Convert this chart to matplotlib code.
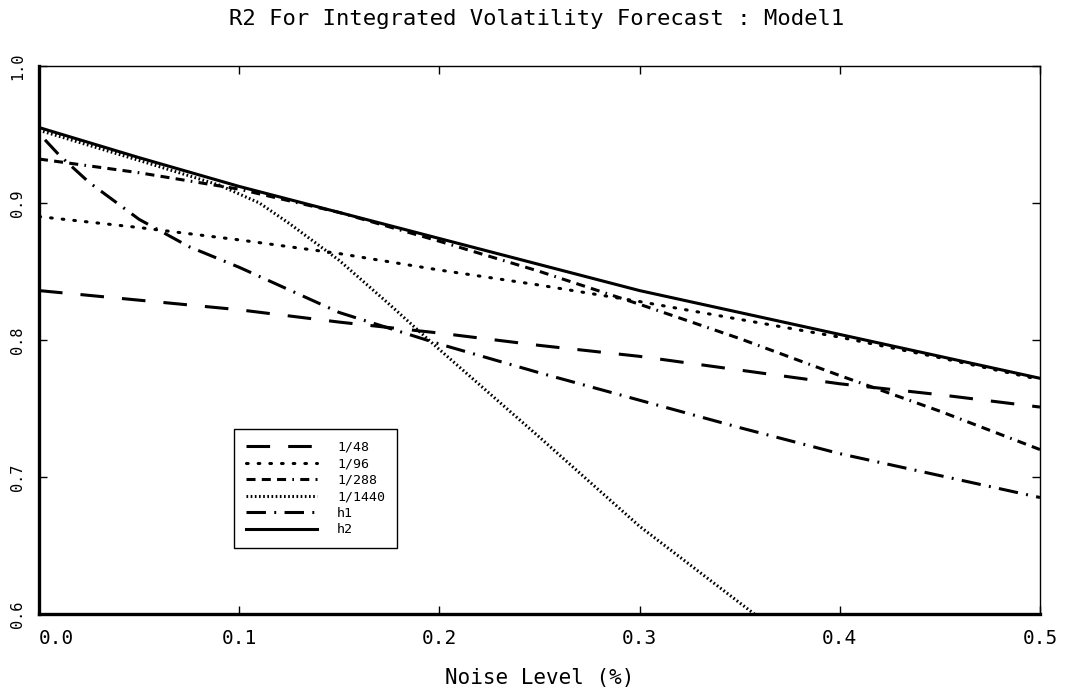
import matplotlib
matplotlib.use("Agg")
import matplotlib.pyplot as plt

# dash patterns given in points, not scaled by line width
plt.rcParams['lines.scale_dashes'] = False
plt.rcParams['font.family'] = ['DejaVu Sans Mono']

# noise level (%) and R2 for each sampling frequency / model
noise = [0.0, 0.05, 0.1, 0.15, 0.2, 0.25, 0.3, 0.35, 0.4, 0.45, 0.5]
r2_48 = [0.836, 0.829, 0.822, 0.813, 0.805, 0.796, 0.788, 0.778, 0.768, 0.760, 0.751]
r2_96 = [0.890, 0.882, 0.873, 0.863, 0.851, 0.840, 0.828, 0.815, 0.802, 0.787, 0.771]
r2_288 = [0.932, 0.922, 0.910, 0.893, 0.872, 0.850, 0.826, 0.801, 0.774, 0.748, 0.720]
r2_h2 = [0.955, 0.933, 0.912, 0.893, 0.874, 0.855, 0.836, 0.820, 0.804, 0.788, 0.772]

noise_1440 = [0.0, 0.05, 0.09, 0.11, 0.125, 0.15, 0.175, 0.2, 0.25, 0.3, 0.36]
r2_1440 = [0.953, 0.931, 0.913, 0.900, 0.885, 0.858, 0.826, 0.793, 0.729, 0.664, 0.597]

noise_h1 = [0.003, 0.01, 0.025, 0.05, 0.075, 0.1, 0.15, 0.2, 0.25, 0.3, 0.35, 0.4, 0.45, 0.5]
r2_h1 = [0.946, 0.935, 0.915, 0.888, 0.868, 0.853, 0.820, 0.797, 0.776, 0.756, 0.736, 0.717, 0.701, 0.685]

labels = ['1/48', '1/96', '1/288', '1/1440', 'h1', 'h2']
xticks = [0.0, 0.1, 0.2, 0.3, 0.4, 0.5]
yticks = [0.6, 0.7, 0.8, 0.9, 1.0]

fig = plt.figure(figsize=(10.74, 6.93), dpi=100)
ax = fig.add_axes([0.0363, 0.114, 0.932, 0.791])

lw = 2.2
ax.plot(noise, r2_48, color='k', lw=lw, linestyle=(0, (17, 13)), label=labels[0])
ax.plot(noise, r2_96, color='k', lw=lw, linestyle=(0, (1.2, 7.2)),
        dash_capstyle='round', label=labels[1])
ax.plot(noise, r2_288, color='k', lw=lw,
        linestyle=(0, (6.5, 4.5, 6.5, 4.5, 6.5, 4.5, 1.2, 4.5)), label=labels[2])
ax.plot(noise_1440, r2_1440, color='k', lw=lw, linestyle=(0, (1.2, 1.8)), label=labels[3])
ax.plot(noise_h1, r2_h1, color='k', lw=lw, linestyle=(0, (14, 6, 1.4, 6)), label=labels[4])
ax.plot(noise, r2_h2, color='k', lw=lw, linestyle='-', label=labels[5])

ax.set_xlim(0.0, 0.5)
ax.set_ylim(0.6, 1.0)

ax.spines['left'].set_linewidth(2.4)
ax.spines['bottom'].set_linewidth(2.4)
ax.spines['top'].set_linewidth(1.0)
ax.spines['right'].set_linewidth(1.0)

ax.set_xticks(xticks)
ax.set_yticks(yticks)
ax.set_xticklabels(['%.1f' % v for v in xticks])
ax.set_yticklabels(['%.1f' % v for v in yticks], rotation=90, va='center')
ax.tick_params(direction='in', length=6, width=1, top=True, right=True)
ax.tick_params(axis='x', labelsize=14, pad=11)
ax.tick_params(axis='y', labelsize=11, pad=10)
ax.get_xticklabels()[0].set_horizontalalignment('left')

ax.set_xlabel('Noise Level (%)', fontsize=15, labelpad=14)
fig.text(0.5, 0.972, 'R2 For Integrated Volatility Forecast : Model1',
         ha='center', va='center', fontsize=16)

leg = ax.legend(loc='upper left', bbox_to_anchor=(0.195, 0.338), borderaxespad=0,
                fontsize=9.5, handlelength=5.4, handletextpad=1.5, labelspacing=0.27,
                borderpad=0.9, fancybox=False, framealpha=1, edgecolor='k')
leg.get_frame().set_linewidth(1.0)

fig.savefig('out.png', dpi=100)
